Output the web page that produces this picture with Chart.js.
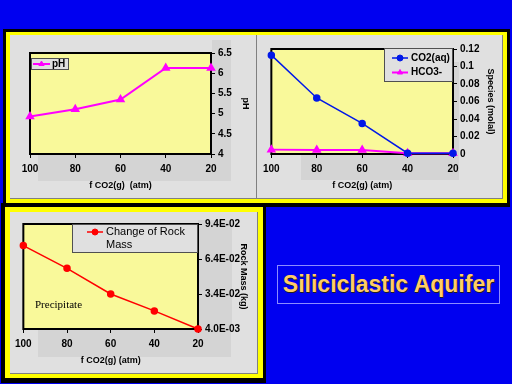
<!DOCTYPE html>
<html>
<head>
<meta charset="utf-8">
<script src="https://cdn.jsdelivr.net/npm/chart.js@4/dist/chart.umd.min.js"></script>
<style>
body{margin:0;width:512px;height:384px;background:#0000f0;position:relative;overflow:hidden;font-family:"Liberation Sans",Arial,sans-serif}
.b{position:absolute}
canvas{position:absolute}
#title{position:absolute;left:277px;top:265px;width:221px;height:37px;border:1px solid #8c8cff;color:#ffcc66;font-weight:bold;font-size:23px;line-height:37px;text-align:center;text-shadow:1px 1px 0 #202020}
</style>
</head>
<body>
<div class="b" style="left:3px;top:29px;width:507px;height:178px;background:#000"></div>
<div class="b" style="left:6px;top:32px;width:501px;height:171px;background:#ffff00"></div>
<div class="b" style="left:10px;top:35px;width:492px;height:163px;background:#e0e0e0;border-right:1px solid #808080;border-bottom:1px solid #808080"></div>
<div class="b" style="left:256px;top:35px;width:1px;height:164px;background:#808080"></div>

<div class="b" style="left:1px;top:203px;width:265px;height:180px;background:#000"></div>
<div class="b" style="left:5px;top:207px;width:258px;height:171px;background:#ffff00"></div>
<div class="b" style="left:10px;top:212px;width:247px;height:161px;background:#e0e0e0;border-right:1px solid #808080;border-bottom:1px solid #808080"></div>

<canvas id="ph" width="246" height="164" style="left:10px;top:35px"></canvas>
<canvas id="species" width="245" height="164" style="left:258px;top:35px"></canvas>
<canvas id="rock" width="248" height="162" style="left:10px;top:212px"></canvas>

<div id="title">Siliciclastic Aquifer</div>

<script>
const fco2 = ['100', '80', '60', '40', '20']
const phValues = [4.93, 5.11, 5.35, 6.13, 6.13]
const co2aq = [0.113, 0.064, 0.035, 0.001, 0.001]
const hco3 = [0.005, 0.0045, 0.0045, 0.001, 0.001]
const rockMass = [0.0755, 0.056, 0.034, 0.0195, 0.004]
const rockTicks = [0.004, 0.034, 0.064, 0.094]

const plotFill = '#f9f99a'
const shade = '#d4d4d4'

// 4.0E-03 style labels
function sci(v){
    const parts = v.toExponential(1).split('e')
    const n = parseInt(parts[1])
    return parts[0] + 'E' + (n < 0 ? '-' : '+') + String(Math.abs(n)).padStart(2, '0')
}

// 6.0 -> 6, 0.10 -> 0.1
const plain = v => String(Number(v.toFixed(4)))

function wrap(c, text, maxW){
    const words = text.split(' ')
    const lines = []
    let cur = ''
    words.forEach(w => {
        const t = cur ? cur + ' ' + w : w
        if (cur && c.measureText(t).width > maxW) { lines.push(cur); cur = w }
        else cur = t
    })
    lines.push(cur)
    return lines
}

const panelDeco = {
    id: 'panelDeco',
    beforeDraw(chart, args, o){
        const c = chart.ctx, a = chart.chartArea
        c.save()
        c.fillStyle = shade
        ;(o.shadeRects || []).forEach(r => c.fillRect(r[0], r[1], r[2], r[3]))
        c.fillStyle = plotFill
        c.fillRect(a.left, a.top, a.width, a.height)
        c.restore()
    },
    beforeDatasetsDraw(chart){
        const c = chart.ctx, a = chart.chartArea
        c.save()
        c.strokeStyle = '#000'
        c.lineWidth = 2
        c.strokeRect(a.left, a.top, a.width, a.height)
        c.restore()
    },
    afterDraw(chart, args, o){
        const c = chart.ctx
        c.save()
        if (o.note) {
            c.font = o.note.font
            c.fillStyle = '#000'
            c.textBaseline = 'middle'
            c.fillText(o.note.text, o.note.x, o.note.y)
        }
        const L = o.legend
        if (L) {
            c.fillStyle = '#e0e0e0'
            c.fillRect(L.x, L.y, L.w, L.h)
            c.strokeStyle = '#505050'
            c.lineWidth = 1
            c.strokeRect(L.x + 0.5, L.y + 0.5, L.w, L.h)
            c.font = L.font
            c.textBaseline = 'middle'
            chart.data.datasets.forEach((ds, i) => {
                const y = L.rowY[i]
                c.strokeStyle = ds.borderColor
                c.lineWidth = ds.borderWidth
                c.beginPath()
                c.moveTo(L.lineX, y)
                c.lineTo(L.lineX + L.lineW, y)
                c.stroke()
                c.fillStyle = ds.pointBackgroundColor
                c.strokeStyle = ds.pointBorderColor
                c.lineWidth = 1
                Chart.helpers.drawPoint(c, {pointStyle: ds.pointStyle, radius: L.markR || 3, borderWidth: 1, rotation: 0}, L.lineX + L.lineW / 2, y)
                c.fillStyle = '#000'
                wrap(c, ds.label, L.maxW || 999).forEach((t, j) => c.fillText(t, L.textX, y + j * (L.lineH || 12)))
            })
        }
        c.restore()
    }
}

function xAxis(title){
    return {
        type: 'category',
        offset: false,
        grid: {display: true, drawOnChartArea: false, drawTicks: true, tickLength: 4, color: '#000'},
        border: {display: false},
        ticks: {color: '#000', font: {size: 10, weight: 'bold'}, padding: 5, maxRotation: 0, autoSkip: false},
        title: {display: true, text: title, color: '#000', font: {size: 9, weight: 'bold'}, padding: {top: 0, bottom: 8}},
        afterFit(s){ s.height = 45 }
    }
}

function yAxis(width, title, titlePad, extra){
    return Object.assign({
        type: 'linear',
        position: 'right',
        grid: {display: true, drawOnChartArea: false, drawTicks: true, tickLength: 4, color: '#000'},
        border: {display: false},
        title: {display: true, text: title, color: '#000', font: {size: 9, weight: 'bold'}, padding: {top: titlePad, bottom: 0}},
        afterFit(s){ s.width = width }
    }, extra)
}

function baseOptions(pad){
    return {
        responsive: false,
        maintainAspectRatio: false,
        animation: false,
        layout: {padding: pad},
        plugins: {legend: {display: false}, tooltip: {enabled: false}}
    }
}

// pH
const phOpts = baseOptions({left: 20, top: 18, right: 0, bottom: 0})
phOpts.scales = {
    x: xAxis('f CO2(g)  (atm)'),
    y: yAxis(45, 'pH', 5, {min: 4, max: 6.5, ticks: {stepSize: 0.5, color: '#000', font: {size: 10, weight: 'bold'}, padding: 3, callback: plain}})
}
phOpts.plugins.panelDeco = {
    shadeRects: [[28, 120, 193, 26], [202, 5, 19, 115]],
    legend: {x: 21, y: 23, w: 37, h: 11, rowY: [29], lineX: 23, lineW: 17, textX: 42, markR: 3, font: 'bold 10px "Liberation Sans", Arial'}
}
new Chart(document.getElementById('ph'), {
    type: 'line',
    data: {
        labels: fco2,
        datasets: [{
            label: 'pH', data: phValues,
            borderColor: '#ff00ff', borderWidth: 2,
            pointStyle: 'triangle', pointRadius: 3.5,
            pointBackgroundColor: '#ff00ff', pointBorderColor: '#ff00ff',
            clip: false
        }]
    },
    options: phOpts,
    plugins: [panelDeco]
})

// species
const spOpts = baseOptions({left: 9, top: 14, right: 0, bottom: 0})
spOpts.scales = {
    x: xAxis('f CO2(g) (atm)'),
    y: yAxis(50, 'Species (molal)', 7, {min: 0, max: 0.12, ticks: {stepSize: 0.02, color: '#000', font: {size: 10, weight: 'bold'}, padding: 3, callback: plain}})
}
spOpts.plugins.panelDeco = {
    shadeRects: [[43, 120, 158, 25], [195, 27, 6, 93]],
    legend: {x: 126, y: 13, w: 68, h: 33, rowY: [23, 37.5], lineX: 134, lineW: 16, textX: 153, markR: 3, font: 'bold 10px "Liberation Sans", Arial'}
}
new Chart(document.getElementById('species'), {
    type: 'line',
    data: {
        labels: fco2,
        datasets: [{
            label: 'CO2(aq)', data: co2aq,
            borderColor: '#0018e8', borderWidth: 1.5,
            pointStyle: 'circle', pointRadius: 3,
            pointBackgroundColor: '#0018e8', pointBorderColor: '#0018e8',
            clip: false
        }, {
            label: 'HCO3-', data: hco3,
            borderColor: '#ff00ff', borderWidth: 2,
            pointStyle: 'triangle', pointRadius: 3.5,
            pointBackgroundColor: '#ff00ff', pointBorderColor: '#ff00ff',
            clip: false
        }]
    },
    options: spOpts,
    plugins: [panelDeco]
})

// rock mass
const rkOpts = baseOptions({left: 11, top: 12, right: 0, bottom: 0})
rkOpts.scales = {
    x: xAxis('f CO2(g) (atm)'),
    y: yAxis(60, 'Rock Mass (kg)', 9, {
        min: rockTicks[0], max: rockTicks[rockTicks.length - 1],
        ticks: {color: '#000', font: {size: 10, weight: 'bold'}, padding: 3, callback: v => sci(v)},
        afterBuildTicks(s){ s.ticks = rockTicks.map(v => ({value: v})) }
    })
}
rkOpts.plugins.panelDeco = {
    shadeRects: [[28, 118, 193, 27], [188, 8, 34, 110]],
    note: {text: 'Precipitate', x: 25, y: 93, font: '11px "Liberation Serif", "Times New Roman", serif'},
    legend: {x: 62, y: 12, w: 125, h: 28, rowY: [20], lineX: 77, lineW: 16, textX: 96, maxW: 84, lineH: 13, markR: 3, font: '11px "Liberation Sans", Arial'}
}
new Chart(document.getElementById('rock'), {
    type: 'line',
    data: {
        labels: fco2,
        datasets: [{
            label: 'Change of Rock Mass', data: rockMass,
            borderColor: '#ff0000', borderWidth: 1.5,
            pointStyle: 'circle', pointRadius: 3,
            pointBackgroundColor: '#ff0000', pointBorderColor: '#ff0000',
            clip: false
        }]
    },
    options: rkOpts,
    plugins: [panelDeco]
})
</script>
</body>
</html>
